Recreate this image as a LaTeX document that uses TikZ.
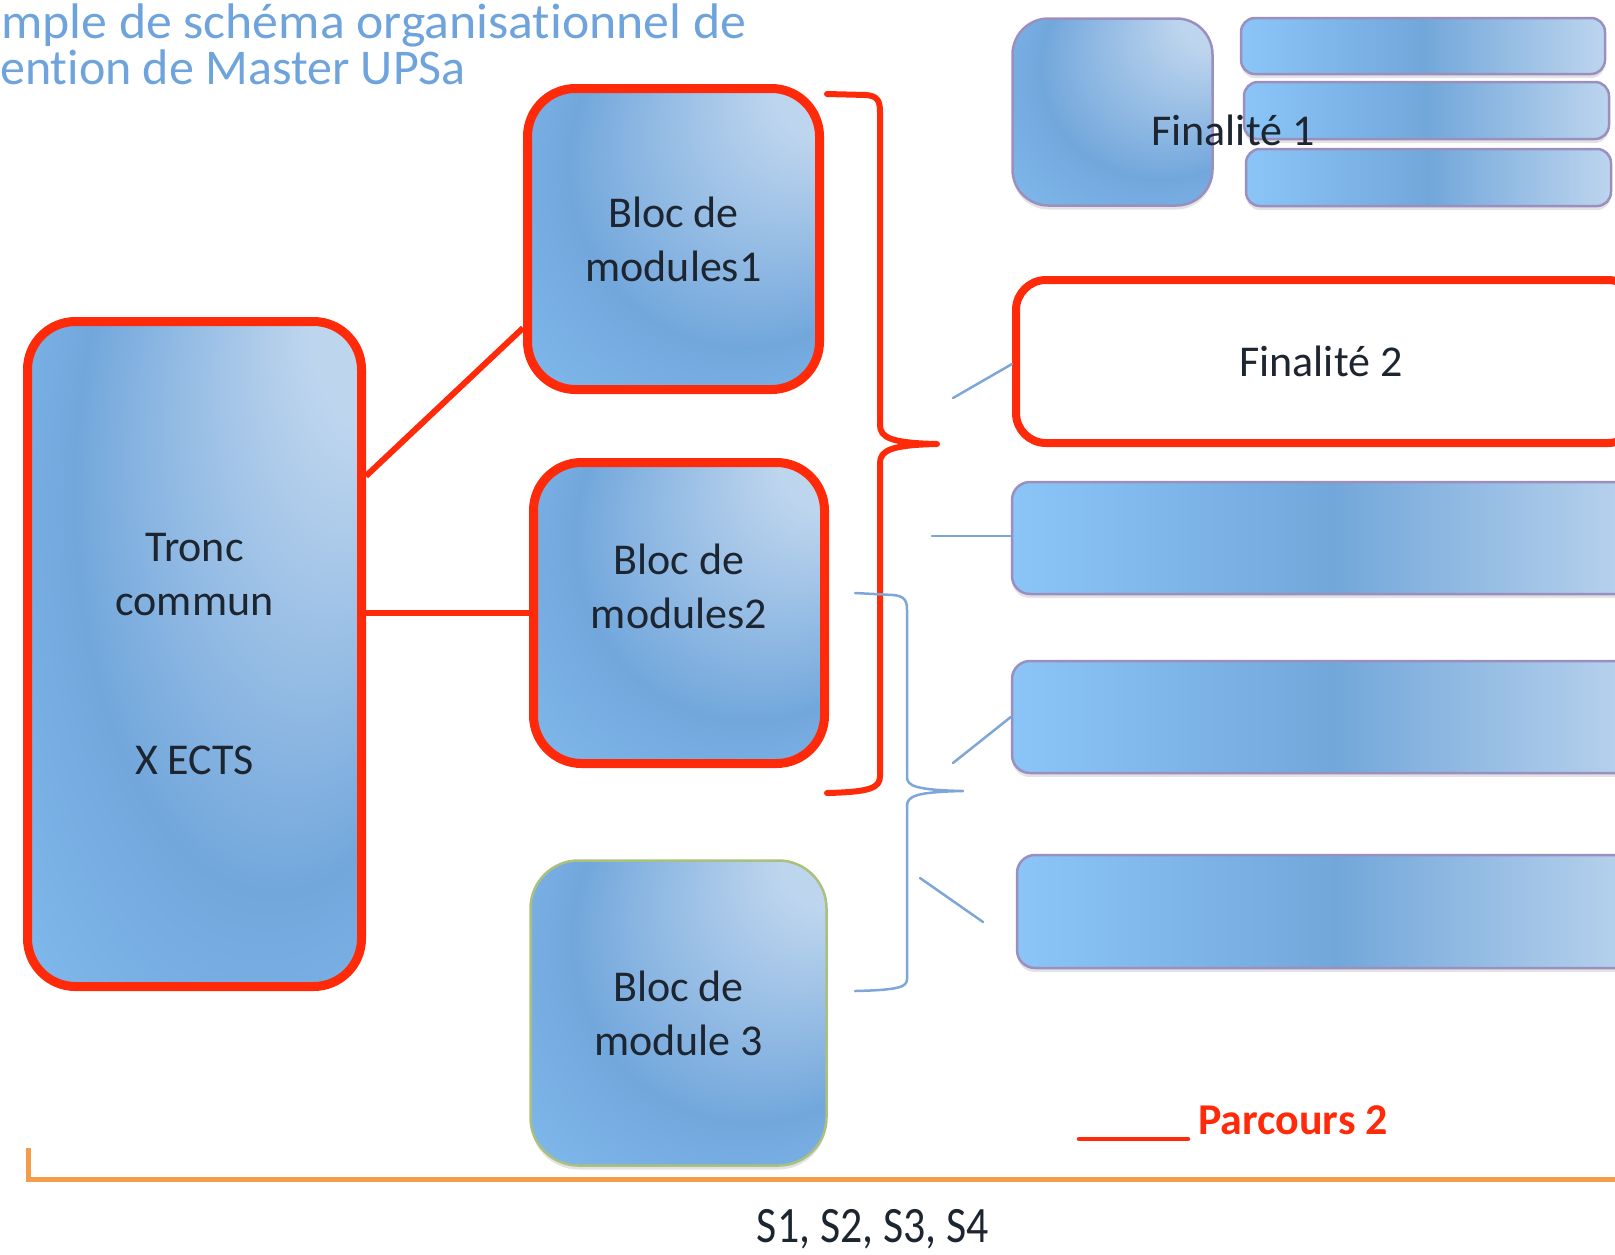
\documentclass[tikz,border=0pt]{standalone}
\usepackage{fontspec}
\setmainfont{Carlito}[Ligatures={NoCommon}]
\usepackage{graphicx}
\usetikzlibrary{shadows}
\definecolor{shA}{HTML}{BED5EE}
\definecolor{shB}{HTML}{72A7DC}
\definecolor{shC}{HTML}{88C4F7}
\definecolor{barL}{HTML}{8BC5F8}
\definecolor{barM}{HTML}{72A7DA}
\definecolor{barR}{HTML}{BDD5EE}
\definecolor{barB}{HTML}{9B8FC0}
\definecolor{pred}{HTML}{FF2A0A}
\definecolor{pblue}{HTML}{7EA6D6}
\definecolor{pgreen}{HTML}{A9C07F}
\definecolor{porange}{HTML}{F29C4C}
\definecolor{ptitle}{HTML}{6EA3DC}
\definecolor{ptext}{HTML}{1C2530}
\pgfdeclareradialshading{boxshade}{\pgfpoint{30bp}{30bp}}{color(0bp)=(shA); color(8bp)=(shA); color(30bp)=(shB); color(50bp)=(shC)}
\tikzset{
  lbl/.style={text=ptext, font=\fontsize{44}{54}\selectfont, align=center},
  softshadow/.style={drop shadow={opacity=0.22, shadow xshift=0pt, shadow yshift=-4pt}},
  blockbox/.style={lbl, shade, shading=boxshade, rounded corners=48pt, inner sep=0pt},
  redbox/.style={blockbox, draw=pred, line width=9pt},
  greenbox/.style={blockbox, softshadow, draw=pgreen, line width=2.5pt},
  barbox/.style={softshadow, shade, left color=barL, right color=barR, middle color=barM, draw=barB, line width=2.5pt, rounded corners=14pt, inner sep=0pt},
  redline/.style={draw=pred, line width=6pt, line join=round},
  blueline/.style={draw=pblue, line width=2.5pt, line cap=round},
  titletext/.style={anchor=base west, inner sep=0pt, text=ptitle, font=\fontsize{50}{50}\selectfont},
}
\begin{document}
\begin{tikzpicture}[x=1pt,y=-1pt]
\useasboundingbox (0,0) rectangle (1615,1254);

% title
\node[titletext] (t1) at (1,38) {\scalebox{1.035}[1]{mple de schéma organisationnel de}};
\node[titletext] (t2) at (0,84) {ention de Master UPSa};

% left blocks
\node[redbox, minimum width=334pt, minimum height=665pt] (tronc) at (194.5,654) {Tronc\\commun\\[105pt]X ECTS};
\node[redbox, minimum width=292pt, minimum height=301pt] (b1) at (673.5,239) {Bloc de\\modules1};
\node[redbox, minimum width=291pt, minimum height=301pt] (b2) at (679,613) {Bloc de\\modules2\\\mbox{}};
\node[greenbox, minimum width=296pt, minimum height=305pt] (b3) at (678.5,1013) {Bloc de\\module 3};

% red connectors
\draw[redline] (tronc.east |- 0,476) -- (b1.west |- 0,328);
\draw[redline] (tronc.east |- b2.west) -- (b2.west);

% Finalite 1 group
\node[blockbox, softshadow, rounded corners=36pt, draw=barB, line width=2.5pt, minimum width=200pt, minimum height=187pt] (f1box) at (1112.5,112) {};
\node[barbox, minimum width=364pt, minimum height=56pt] (f1a) at (1423,46) {};
\node[barbox, minimum width=365pt, minimum height=57pt] (f1b) at (1426.5,110.5) {};
\node[barbox, minimum width=365pt, minimum height=57pt] (f1c) at (1428.5,177.5) {};
\node[lbl, inner sep=0pt] (f1lbl) at (1233,130) {Finalité 1};

% Finalite 2
\node[lbl, draw=pred, fill=white, line width=8pt, rounded corners=30pt, minimum width=622pt, minimum height=163pt] (fin2) at (1327,361.5) {\hspace*{-12pt}Finalité 2};

% right bars
\node[barbox, rounded corners=18pt, minimum width=640pt, minimum height=112pt] (barA) at (1332,538) {};
\node[barbox, rounded corners=18pt, minimum width=640pt, minimum height=112pt] (barB) at (1332,717) {};
\node[barbox, rounded corners=18pt, minimum width=636pt, minimum height=113pt] (barC) at (1335,911.5) {};

% red bracket
\draw[redline, line cap=round] (827,94) -- (866,95) .. controls (877,96) and (880,100) .. (880,112) -- (880,425)
  .. controls (880,438) and (892,443) .. (937,444)
  .. controls (892,445) and (880,450) .. (880,463) -- (880,776)
  .. controls (880,788) and (870,792) .. (827,793);

% blue bracket
\draw[blueline, line join=round] (855,593) -- (893,595) .. controls (904,596) and (907,600) .. (907,610) -- (907,777)
  .. controls (907,786) and (916,790) .. (963,791)
  .. controls (916,792) and (907,796) .. (907,806) -- (907,979)
  .. controls (907,987) and (899,990) .. (855,991);

% blue stubs
\coordinate (s1) at (953,398);
\coordinate (s2) at (932,536);
\coordinate (s3) at (953,763);
\coordinate (s4a) at (920,878);
\coordinate (s4b) at (983,922);
\draw[blueline] (s1) -- (fin2.west |- 0,364);
\draw[blueline] (s2) -- (barA.west |- s2);
\draw[blueline] (s3) -- (barB.west);
\draw[blueline] (s4a) -- (s4b);

% legend
\coordinate (lg1) at (1079,1139);
\coordinate (lg2) at (1188,1139);
\draw[draw=pred, line width=4.5pt, line cap=round] (lg1) -- (lg2);
\node[anchor=west, inner sep=0pt, text=pred, font=\fontsize{44}{50}\selectfont\bfseries] (leg) at (1198,1120) {Parcours 2};

% time axis
\coordinate (ax0) at (28,1148);
\coordinate (ax1) at (28,1179);
\coordinate (ax2) at (1660,1179);
\draw[draw=porange, line width=5pt] (ax0) -- (ax1) -- (ax2);
\node[inner sep=0pt, text=ptext, font=\fontsize{51}{55}\selectfont] (sem) at (873,1229) {\scalebox{0.86}[1]{S1, S2, S3, S4}};
\end{tikzpicture}
\end{document}
